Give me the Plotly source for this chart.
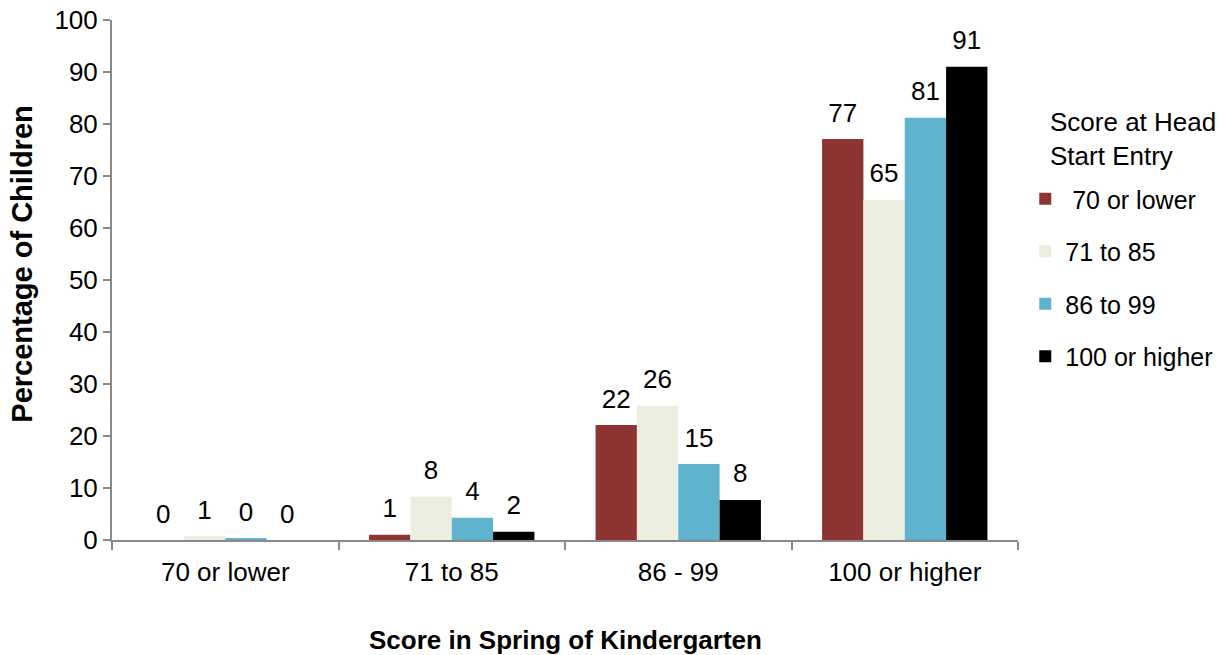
import plotly.graph_objects as go

# Spring of kindergarten score bands (x categories)
categories = ['70 or lower', '71 to 85', '86 - 99', '100 or higher']

# Series = score band at Head Start entry
series_names = [' 70 or lower', '71 to 85', '86 to 99', '100 or higher']
series_colors = ['#8E3432', '#EBEEDE', '#5FB3CD', '#000000']

vals_70_or_lower = [0.0, 1.0, 22.1, 77.1]
vals_71_to_85 = [0.7, 8.3, 25.8, 65.4]
vals_86_to_99 = [0.3, 4.3, 14.6, 81.2]
vals_100_or_higher = [0.0, 1.6, 7.7, 91.0]

series_values = [vals_70_or_lower, vals_71_to_85, vals_86_to_99, vals_100_or_higher]

font_family = 'Liberation Sans, Arial, sans-serif'
axis_gray = '#898989'
gap = 0.27

fig = go.Figure()

for i, (name, vals, color) in enumerate(zip(series_names, series_values, series_colors)):
    fig.add_trace(go.Bar(
        x=categories,
        y=vals,
        name=name,
        marker=dict(color=color, line=dict(width=0)),
        offsetgroup=str(i),
        legendgroup=f'g{i}',
    ))

# value labels sit a bit higher above the bars than plotly's own outside text
for i, vals in enumerate(series_values):
    fig.add_trace(go.Scatter(
        x=categories,
        y=vals,
        mode='markers+text',
        marker=dict(size=16, opacity=0),
        texttemplate='%{y:.0f}',
        textposition='top center',
        textfont=dict(size=26, color='#000000', family=font_family),
        offsetgroup=str(i),
        cliponaxis=False,
        showlegend=False,
        hoverinfo='skip',
    ))

fig.update_layout(
    width=1230,
    height=655,
    barmode='group',
    bargap=gap,
    bargroupgap=0,
    scattermode='group',
    scattergap=gap,
    plot_bgcolor='white',
    paper_bgcolor='white',
    font=dict(family=font_family, size=26, color='#000000'),
    margin=dict(l=112, r=210, t=20, b=115),
    showlegend=True,
    legend=dict(
        x=1.008, xanchor='left',
        y=0.70, yanchor='top',
        font=dict(size=25),
        tracegroupgap=17,
        itemwidth=30,
    ),
    xaxis=dict(
        automargin=False,
        showline=True, linecolor=axis_gray, linewidth=2,
        ticks='outside', tickson='boundaries', ticklen=8, tickcolor=axis_gray, tickwidth=2,
        tickfont=dict(size=26),
        ticklabelstandoff=8,
        showgrid=False,
    ),
    yaxis=dict(
        automargin=False,
        range=[0, 100], dtick=10,
        showline=True, linecolor=axis_gray, linewidth=2,
        ticks='outside', ticklen=7, tickcolor=axis_gray, tickwidth=2,
        tickfont=dict(size=26),
        ticklabeloverflow='allow',
        showgrid=False, zeroline=False,
    ),
    annotations=[
        dict(text='<b>Score in Spring of Kindergarten</b>', xref='paper', yref='paper',
             x=0.5, y=-0.192, xanchor='center', yanchor='middle', showarrow=False,
             font=dict(size=26)),
        dict(text='<b>Percentage of Children</b>', xref='paper', yref='paper',
             x=-0.099, y=0.530, xanchor='center', yanchor='middle', showarrow=False,
             textangle=-90, font=dict(size=29)),
        dict(text='Score at Head<br>Start Entry', xref='paper', yref='paper',
             x=1.033, y=0.771, xanchor='left', yanchor='middle', align='left',
             showarrow=False, font=dict(size=26)),
    ],
)

# drop the default 8px body margin so the figure sits at the page corner
fig.write_html("out.html", config={'displayModeBar': False},
               post_script="document.body.style.margin = '0';")
